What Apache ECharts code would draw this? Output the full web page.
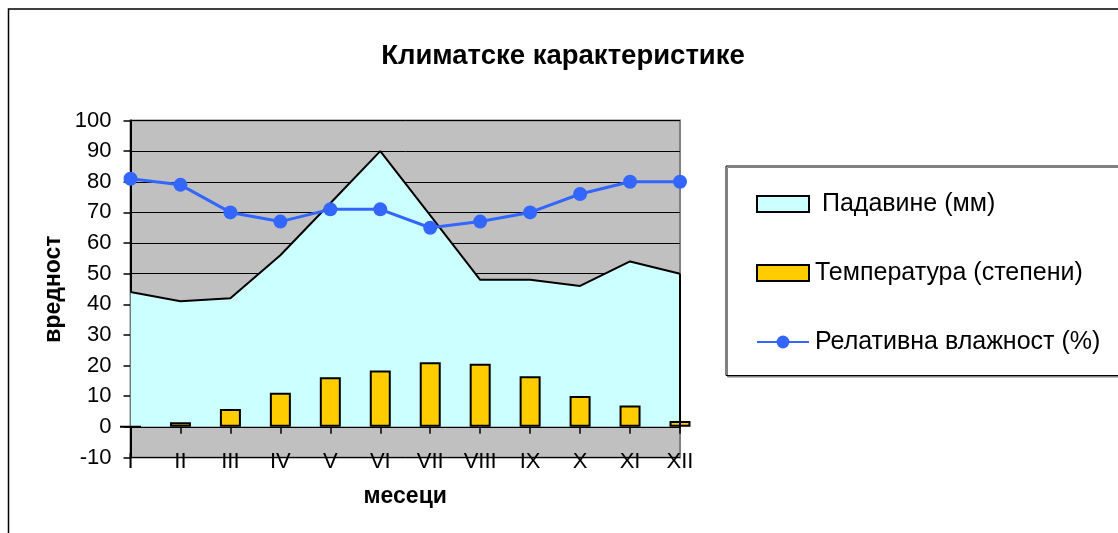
<!DOCTYPE html>
<html>
<head>
<meta charset="utf-8">
<script src="https://cdn.jsdelivr.net/npm/echarts@6/dist/echarts.min.js"></script>
<style>
html,body{margin:0;padding:0;background:#fff;}
#c{width:1118px;height:533px;}
</style>
</head>
<body>
<div id="c"></div>
<script>
var months = ['I','II','III','IV','V','VI','VII','VIII','IX','X','XI','XII'];
var precip = [44, 41, 42, 56, 73, 90, 69, 48, 48, 46, 54, 50];
var temperature = [0, 1.5, 5.8, 11.1, 16.2, 18.4, 21.1, 20.6, 16.5, 10.1, 7.0, 1.9];
var humidity = [81, 79, 70, 67, 71, 71, 65, 67, 70, 76, 80, 80];
var yTicks = {min: -10, max: 100, interval: 10};

var FONT = 'Liberation Sans, Arial, sans-serif';
var chart = echarts.init(document.getElementById('c'), null, {renderer: 'canvas'});
chart.setOption({
  animation: false,
  backgroundColor: '#fff',
  graphic: [{
    type: 'rect', silent: true, z: -10,
    shape: {x: 8.5, y: 9, width: 1300, height: 700},
    style: {fill: 'none', stroke: '#000', lineWidth: 1.5}
  }],
  title: {
    text: 'Климатске карактеристике',
    left: 558, top: 37, textAlign: 'center',
    textStyle: {fontFamily: FONT, fontSize: 27.5, fontWeight: 'bold', color: '#000'}
  },
  legend: {
    orient: 'vertical',
    left: 726, top: 166,
    padding: [25.5, 80, 21, 30],
    itemGap: 44,
    itemWidth: 52, itemHeight: 16,
    borderColor: '#000', borderWidth: 1,
    backgroundColor: '#fff',
    shadowColor: '#808080', shadowOffsetX: 1.5, shadowOffsetY: 1.5, shadowBlur: 0,
    textStyle: {fontFamily: FONT, fontSize: 25, color: '#000', lineHeight: 24, padding: [0,0,0,1]},
    formatter: function (n) { return n === 'Падавине (мм)' ? ' ' + n : n; },
    data: [
      {name: 'Падавине (мм)', icon: 'rect', itemStyle: {color: '#CCFFFF', borderColor: '#000', borderWidth: 2}},
      {name: 'Температура (степени)', icon: 'rect', itemStyle: {color: '#FFCC00', borderColor: '#000', borderWidth: 2}},
      {name: 'Релативна влажност (%)'}
    ]
  },
  grid: {
    left: 130.5, top: 120.5, width: 549.5, height: 337,
    show: true, backgroundColor: '#C0C0C0', borderColor: '#808080', borderWidth: 2,
    containLabel: false
  },
  xAxis: [{
    type: 'category', data: months, boundaryGap: false,
    axisLine: {onZero: true, lineStyle: {color: '#000', width: 2}},
    axisTick: {show: true, length: 7, lineStyle: {color: '#000', width: 1.5}, alignWithLabel: true},
    axisLabel: {show: false},
    splitLine: {show: false}
  }, {
    type: 'category', data: months, boundaryGap: false, position: 'bottom',
    axisLine: {show: false, onZero: false},
    axisTick: {show: false},
    axisLabel: {show: true, margin: -7, fontFamily: FONT, fontSize: 22, color: '#000', interval: 0},
    splitLine: {show: false},
    name: 'месеци', nameLocation: 'middle', nameGap: 28,
    nameTextStyle: {fontFamily: FONT, fontSize: 23, fontWeight: 'bold', color: '#000'}
  }],
  yAxis: {
    type: 'value', min: yTicks.min, max: yTicks.max, interval: yTicks.interval,
    axisLine: {show: true, lineStyle: {color: '#000', width: 2}},
    axisTick: {show: true, length: 7, lineStyle: {color: '#000', width: 1.5}},
    axisLabel: {margin: 19, fontFamily: FONT, fontSize: 22, color: '#000'},
    splitLine: {show: true, lineStyle: {color: '#000', width: 1}},
    name: 'вредност', nameLocation: 'middle', nameGap: 65, nameRotate: 90,
    nameTextStyle: {fontFamily: FONT, fontSize: 23, fontWeight: 'bold', color: '#000'}
  },
  series: [{
    name: 'Падавине (мм)', type: 'line', data: precip, xAxisIndex: 0,
    symbol: 'none', z: 1,
    lineStyle: {color: '#000', width: 2},
    itemStyle: {color: '#CCFFFF'},
    areaStyle: {color: '#CCFFFF', opacity: 1},
    markLine: {
      silent: true, symbol: 'none', label: {show: false},
      lineStyle: {color: '#000', width: 2, type: 'solid'},
      data: [[{coord: [months[11], 0]}, {coord: [months[11], precip[11]]}]]
    }
  }, {
    name: 'Температура (степени)', type: 'bar', data: temperature, xAxisIndex: 0,
    barWidth: 21, z: 2,
    itemStyle: {color: '#FFCC00', borderColor: '#000', borderWidth: 2}
  }, {
    name: 'Релативна влажност (%)', type: 'line', data: humidity, xAxisIndex: 0,
    symbol: 'circle', symbolSize: 14, z: 3,
    lineStyle: {color: '#3366FF', width: 3},
    itemStyle: {color: '#3366FF'}
  }]
});
</script>
</body>
</html>
